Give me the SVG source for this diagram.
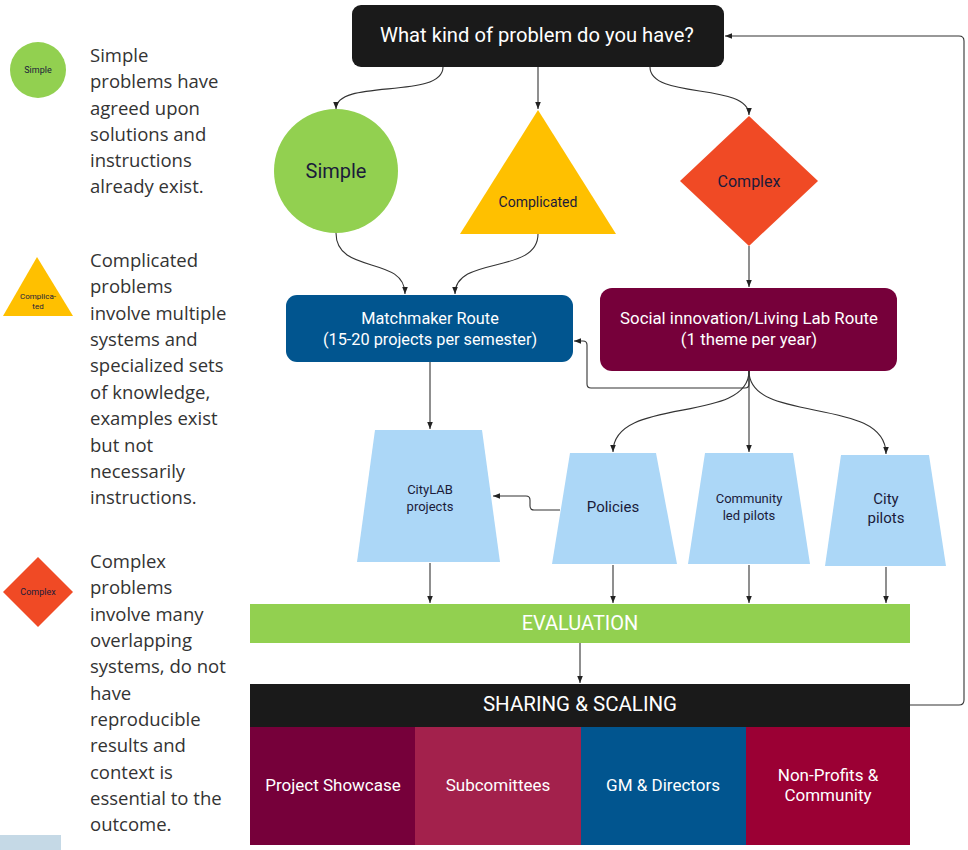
<svg xmlns="http://www.w3.org/2000/svg" width="968" height="850" viewBox="0 0 968 850">
<defs>
<marker id="arr" viewBox="0 0 10 10" refX="10" refY="5" markerWidth="7" markerHeight="7" orient="auto" markerUnits="userSpaceOnUse">
<path d="M0,1 L10,5 L0,9 z" fill="#222"/>
</marker>
<style>
.leg{font-family:"Open Sans","Noto Sans",sans-serif;font-size:18.5px;fill:#333}
.r{font-family:Roboto,"Liberation Sans",sans-serif;text-anchor:middle}
.w{fill:#fff}
.d{fill:#1b1b3a}
.c{fill:none;stroke:#333;stroke-width:1.1;marker-end:url(#arr)}
.trap{fill:#acd7f7}
</style>
</defs>
<rect width="968" height="850" fill="#fff"/>

<!-- Legend -->
<g id="legend-simple">
<circle cx="38" cy="70" r="28" fill="#92d050"/>
<text class="r d" x="38" y="73" font-size="9">Simple</text>
<text class="leg" x="90" y="62">Simple</text>
<text class="leg" x="90" y="88">problems have</text>
<text class="leg" x="90" y="115">agreed upon</text>
<text class="leg" x="90" y="141">solutions and</text>
<text class="leg" x="90" y="167">instructions</text>
<text class="leg" x="90" y="193">already exist.</text>
</g>
<g id="legend-complicated">
<polygon points="37,257 73,316 3,316" fill="#ffc000"/>
<text class="r d" x="38" y="299" font-size="8">Complica-</text>
<text class="r d" x="38" y="309" font-size="8">ted</text>
<text class="leg" x="90" y="267">Complicated</text>
<text class="leg" x="90" y="293">problems</text>
<text class="leg" x="90" y="320">involve multiple</text>
<text class="leg" x="90" y="346">systems and</text>
<text class="leg" x="90" y="372">specialized sets</text>
<text class="leg" x="90" y="399">of knowledge,</text>
<text class="leg" x="90" y="425">examples exist</text>
<text class="leg" x="90" y="452">but not</text>
<text class="leg" x="90" y="478">necessarily</text>
<text class="leg" x="90" y="504">instructions.</text>
</g>
<g id="legend-complex">
<polygon points="38,557 73,592 38,627 3,592" fill="#f04a25"/>
<text class="r d" x="38" y="595" font-size="9">Complex</text>
<text class="leg" x="90" y="568">Complex</text>
<text class="leg" x="90" y="594">problems</text>
<text class="leg" x="90" y="621">involve many</text>
<text class="leg" x="90" y="647">overlapping</text>
<text class="leg" x="90" y="673">systems, do not</text>
<text class="leg" x="90" y="700">have</text>
<text class="leg" x="90" y="726">reproducible</text>
<text class="leg" x="90" y="752">results and</text>
<text class="leg" x="90" y="779">context is</text>
<text class="leg" x="90" y="805">essential to the</text>
<text class="leg" x="90" y="831">outcome.</text>
</g>
<rect x="0" y="835" width="61" height="15" fill="#c5d9e6"/>

<!-- Connectors -->
<g id="connectors">
<path class="c" d="M443,67 C443,100 336,78 336,109"/>
<path class="c" d="M538,67 V109"/>
<path class="c" d="M650,67 C650,100 749,82 749,115"/>
<path class="c" d="M336,233 C336,275 405,255 405,294"/>
<path class="c" d="M538,234 C538,275 455,255 455,294"/>
<path class="c" d="M749,246 V287"/>
<path class="c" d="M749,371 V384 Q749,388 745,388 H591 Q587,388 587,384 V345 Q587,341 583,341 H574"/>
<path class="c" d="M749,371 C749,425 613,395 613,452"/>
<path class="c" d="M749,371 V452"/>
<path class="c" d="M749,371 C749,425 886,395 886,454"/>
<path class="c" d="M430,362 V429"/>
<path class="c" d="M560,510 H534 Q530,510 530,506 V500 Q530,496 526,496 H493"/>
<path class="c" d="M430,563 V603"/>
<path class="c" d="M613,565 V603"/>
<path class="c" d="M749,565 V603"/>
<path class="c" d="M886,567 V603"/>
<path class="c" d="M580,643 V683"/>
<path class="c" d="M910,705 H959 Q964,705 964,700 V41 Q964,36 959,36 H725"/>
</g>

<!-- Nodes -->
<g id="question">
<rect x="352" y="5" width="372" height="62" rx="9" fill="#1a1a1a"/>
<text class="r w" x="537" y="42" font-size="20.2">What kind of problem do you have?</text>
</g>
<g id="simple">
<circle cx="336" cy="171" r="62" fill="#92d050"/>
<text class="r d" x="336" y="178" font-size="20">Simple</text>
</g>
<g id="complicated">
<polygon points="538,110 616,234 460,234" fill="#ffc000"/>
<text class="r d" x="538" y="207" font-size="14">Complicated</text>
</g>
<g id="complex">
<polygon points="749,116 818,181 749,246 680,181" fill="#f04a25"/>
<text class="r d" x="749" y="187" font-size="16">Complex</text>
</g>
<g id="matchmaker">
<rect x="286" y="295" width="287" height="67" rx="11" fill="#01558f"/>
<text class="r w" x="430" y="324" font-size="16.3">Matchmaker Route</text>
<text class="r w" x="430" y="345" font-size="16.3">(15-20 projects per semester)</text>
</g>
<g id="social">
<rect x="600" y="288" width="297" height="83" rx="12" fill="#76003a"/>
<text class="r w" x="749" y="324" font-size="16.8">Social innovation/Living Lab Route</text>
<text class="r w" x="749" y="345" font-size="16.8">(1 theme per year)</text>
</g>
<g id="citylab">
<polygon class="trap" points="375,430 482,430 500,562 357,562"/>
<text class="r d" x="430" y="494" font-size="13">CityLAB</text>
<text class="r d" x="430" y="511" font-size="13">projects</text>
</g>
<g id="policies">
<polygon class="trap" points="570,453 656,453 677,564 552,564"/>
<text class="r d" x="613" y="512" font-size="15">Policies</text>
</g>
<g id="community">
<polygon class="trap" points="705,453 793,453 810,564 688,564"/>
<text class="r d" x="749" y="503" font-size="13">Community</text>
<text class="r d" x="749" y="520" font-size="13">led pilots</text>
</g>
<g id="citypilots">
<polygon class="trap" points="841,455 929,455 946,566 825,566"/>
<text class="r d" x="886" y="504" font-size="15">City</text>
<text class="r d" x="886" y="523" font-size="15">pilots</text>
</g>
<g id="evaluation">
<rect x="250" y="604" width="660" height="39" fill="#92d050"/>
<text class="r w" x="580" y="630" font-size="20">EVALUATION</text>
</g>
<g id="sharing">
<rect x="250" y="684" width="660" height="43" fill="#1a1a1a"/>
<text class="r w" x="580" y="711" font-size="20.5">SHARING &amp; SCALING</text>
</g>
<g id="showcase">
<rect x="250" y="727" width="166" height="118" fill="#76003a"/>
<text class="r w" x="333" y="791" font-size="17">Project Showcase</text>
</g>
<g id="subcommittees">
<rect x="415" y="727" width="166" height="118" fill="#a3214c"/>
<text class="r w" x="498" y="791" font-size="17">Subcomittees</text>
</g>
<g id="gm">
<rect x="581" y="727" width="166" height="118" fill="#01558f"/>
<text class="r w" x="663" y="791" font-size="17">GM &amp; Directors</text>
</g>
<g id="nonprofits">
<rect x="746" y="727" width="164" height="118" fill="#9b0034"/>
<text class="r w" x="828" y="781" font-size="17">Non-Profits &amp;</text>
<text class="r w" x="828" y="801" font-size="17">Community</text>
</g>
</svg>
